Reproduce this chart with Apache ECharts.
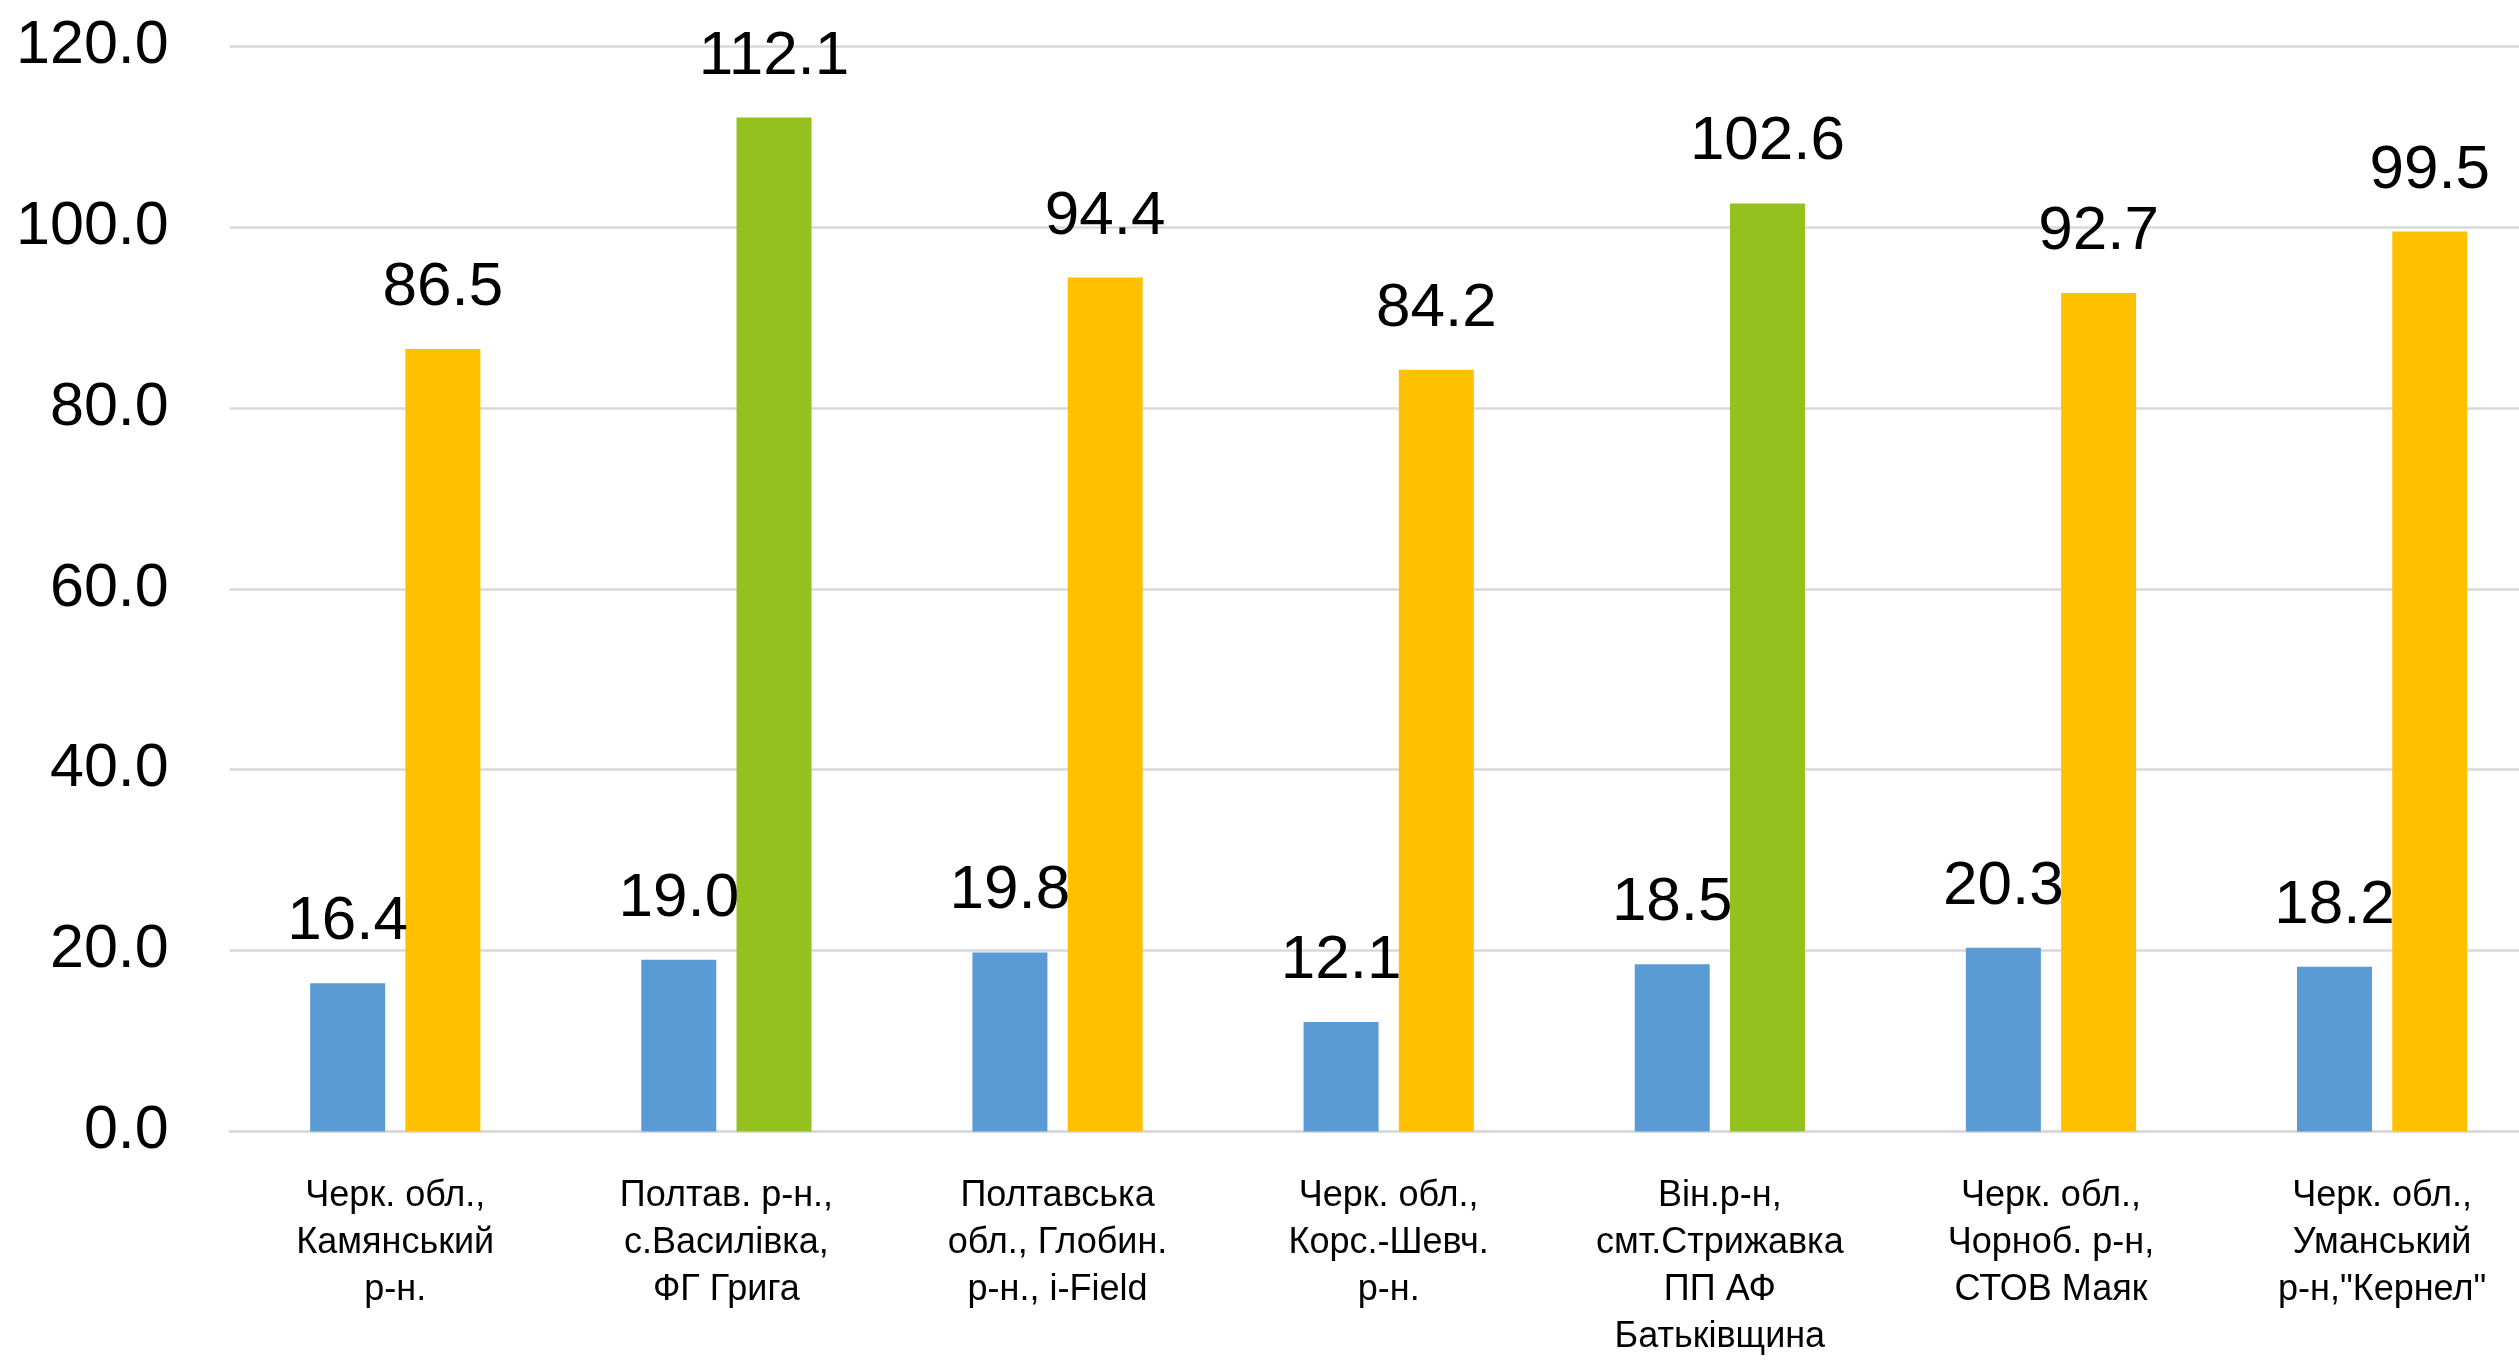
<!DOCTYPE html>
<html><head><meta charset="utf-8">
<script src="https://cdn.jsdelivr.net/npm/echarts@6/dist/echarts.min.js"></script>
<style>html,body{margin:0;padding:0;background:#fff;overflow:hidden;width:2519px;height:1361px}#c{width:2548px;height:1361px}</style>
</head><body><div id="c"></div>
<script>
const categories = [
  "Черк. обл.,\nКамянський\nр-н.",
  "Полтав. р-н.,\nс.Василівка,\nФГ Грига",
  "Полтавська\nобл., Глобин.\nр-н., i-Field",
  "Черк. обл.,\nКорс.-Шевч.\nр-н.",
  "Він.р-н,\nсмт.Стрижавка\nПП АФ\nБатьківщина",
  "Черк. обл.,\nЧорноб. р-н,\nСТОВ Маяк",
  "Черк. обл.,\nУманський\nр-н,\"Кернел\""
];
const seriesA = [16.4, 19.0, 19.8, 12.1, 18.5, 20.3, 18.2];
const seriesB = [86.5, 112.1, 94.4, 84.2, 102.6, 92.7, 99.5];
const highlightB = [false, true, false, false, true, false, false];
const yTicks = [0, 20, 40, 60, 80, 100, 120];

const FONT = "'Liberation Sans', Arial, sans-serif";
const chart = echarts.init(document.getElementById('c'), null, {renderer: 'canvas'});
chart.setOption({
  animation: false,
  grid: {left: 229.7, right: 0.3, top: 46, bottom: 229.5, containLabel: false},
  xAxis: {
    type: 'category', data: categories,
    axisLine: {show: true, lineStyle: {color: '#d9d9d9', width: 2.5}},
    axisTick: {show: false},
    axisLabel: {interval: 0, margin: 41, fontFamily: FONT, fontSize: 36, lineHeight: 47, color: '#000'}
  },
  yAxis: {
    type: 'value', min: yTicks[0], max: yTicks[yTicks.length - 1], interval: 20,
    axisLine: {show: false}, axisTick: {show: false},
    splitLine: {lineStyle: {color: '#d9d9d9', width: 2.5}},
    axisLabel: {margin: 61, fontFamily: FONT, fontSize: 61, color: '#000',
      formatter: v => v.toFixed(1)}
  },
  series: [
    {
      type: 'bar', data: seriesA, barWidth: 75, barGap: '27%',
      itemStyle: {color: '#5B9BD5'},
      label: {show: true, position: 'top', distance: 30, fontFamily: FONT, fontSize: 62, color: '#000',
        formatter: p => p.value.toFixed(1)}
    },
    {
      type: 'bar', barWidth: 75,
      data: seriesB.map((v, i) => ({value: v, itemStyle: {color: highlightB[i] ? '#95C11F' : '#FFC000'}})),
      label: {show: true, position: 'top', distance: 30, fontFamily: FONT, fontSize: 62, color: '#000',
        formatter: p => p.value.toFixed(1)}
    }
  ]
});
</script></body></html>
